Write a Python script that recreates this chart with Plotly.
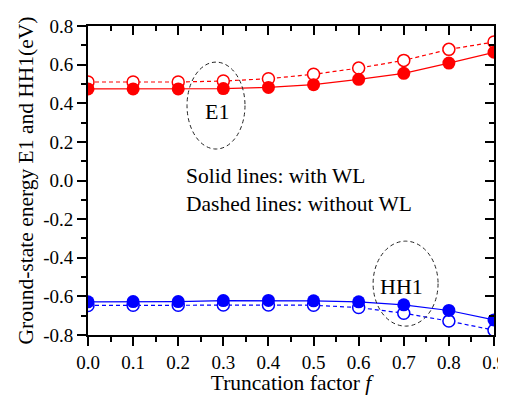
import plotly.graph_objects as go

f_vals = [0.0, 0.1, 0.2, 0.3, 0.4, 0.5, 0.6, 0.7, 0.8, 0.9]
e1_with_wl = [0.474, 0.474, 0.474, 0.476, 0.482, 0.496, 0.524, 0.555, 0.608, 0.664]
e1_without_wl = [0.510, 0.510, 0.510, 0.515, 0.527, 0.550, 0.582, 0.622, 0.679, 0.717]
hh1_with_wl = [-0.628, -0.627, -0.627, -0.622, -0.621, -0.623, -0.628, -0.644, -0.673, -0.722]
hh1_without_wl = [-0.647, -0.646, -0.646, -0.645, -0.645, -0.646, -0.658, -0.687, -0.728, -0.775]

x_ticks = [0.0, 0.1, 0.2, 0.3, 0.4, 0.5, 0.6, 0.7, 0.8, 0.9]
y_ticks = [0.8, 0.6, 0.4, 0.2, 0.0, -0.2, -0.4, -0.6, -0.8]

FONT = "Liberation Serif"
RED = "#ff0000"
BLUE = "#0000ff"

fig = go.Figure()

def add_series(y, color, dash, filled):
    fig.add_trace(go.Scatter(
        x=f_vals, y=y, mode="lines+markers",
        line=dict(color=color, width=1.2, dash=dash),
        marker=dict(symbol="circle", size=13 if filled else 12,
                    color=color if filled else "white",
                    line=dict(color=color, width=0 if filled else 1.5)),
        showlegend=False,
    ))

add_series(e1_without_wl, RED, "4px,3px", False)
add_series(hh1_without_wl, BLUE, "4px,3px", False)
add_series(e1_with_wl, RED, "solid", True)
add_series(hh1_with_wl, BLUE, "solid", True)

# ellipses
fig.add_shape(type="circle", xref="x", yref="y", x0=0.2195, x1=0.348, y0=0.163, y1=0.613,
              line=dict(color="#222222", width=1, dash="4px,3px"))
fig.add_shape(type="circle", xref="x", yref="y", x0=0.632, x1=0.776, y0=-0.754, y1=-0.314,
              line=dict(color="#222222", width=1, dash="4px,3px"))

fig.add_annotation(x=0.285, y=0.356, text="E1", showarrow=False,
                   font=dict(family=FONT, size=22, color="black"))
fig.add_annotation(x=0.696, y=-0.551, text="HH1", showarrow=False,
                   font=dict(family=FONT, size=22, color="black"))
fig.add_annotation(x=0.213, y=0.023, text="Solid lines: with WL", showarrow=False,
                   xanchor="left", font=dict(family=FONT, size=21.5, color="black"))
fig.add_annotation(x=0.213, y=-0.122, text="Dashed lines: without WL", showarrow=False,
                   xanchor="left", font=dict(family=FONT, size=21.5, color="black"))

axis_common = dict(showgrid=False, zeroline=False, showline=True, linecolor="black",
                   linewidth=1.8, tickcolor="black", tickwidth=1.5, ticklen=9, automargin=False)

fig.update_layout(
    width=498, height=387,
    margin=dict(l=80, r=12, t=18, b=60),
    paper_bgcolor="white", plot_bgcolor="white",
    font=dict(family=FONT, size=19, color="black"),
    xaxis=dict(range=[0, 0.9], tickvals=x_ticks, ticktext=[f"{v:.1f}" for v in x_ticks],
               ticks="outside", minor=dict(dtick=0.05, tick0=0, ticks="outside", ticklen=5,
                                           tickcolor="black", tickwidth=1.5),
               title=dict(text="Truncation factor <i>f</i>", font=dict(family=FONT, size=21.5), standoff=6),
               tickfont=dict(family=FONT, size=19),
               **axis_common),
    yaxis=dict(range=[-0.8, 0.8], tickvals=y_ticks, ticktext=[f"{v:.1f}" for v in y_ticks],
               ticks="outside", minor=dict(dtick=0.1, tick0=0, ticks="outside", ticklen=5,
                                           tickcolor="black", tickwidth=1.5),
               title=dict(text="Ground-state energy E1 and HH1(eV)", font=dict(family=FONT, size=21.5), standoff=4),
               tickfont=dict(family=FONT, size=19),
               **axis_common),
    xaxis2=dict(range=[0, 0.9], overlaying="x", side="top", tickvals=x_ticks, showticklabels=False,
                ticks="inside", minor=dict(dtick=0.05, tick0=0, ticks="inside", ticklen=5,
                                           tickcolor="black", tickwidth=1.5),
                **axis_common),
    yaxis2=dict(range=[-0.8, 0.8], overlaying="y", side="right", tickvals=y_ticks, showticklabels=False,
                ticks="inside", minor=dict(dtick=0.1, tick0=0, ticks="inside", ticklen=5,
                                           tickcolor="black", tickwidth=1.5),
                **axis_common),
)
# dummy trace to activate secondary axes
fig.add_trace(go.Scatter(x=[None], y=[None], xaxis="x2", yaxis="y2", showlegend=False, hoverinfo="skip"))

fig.write_html("out.html")
